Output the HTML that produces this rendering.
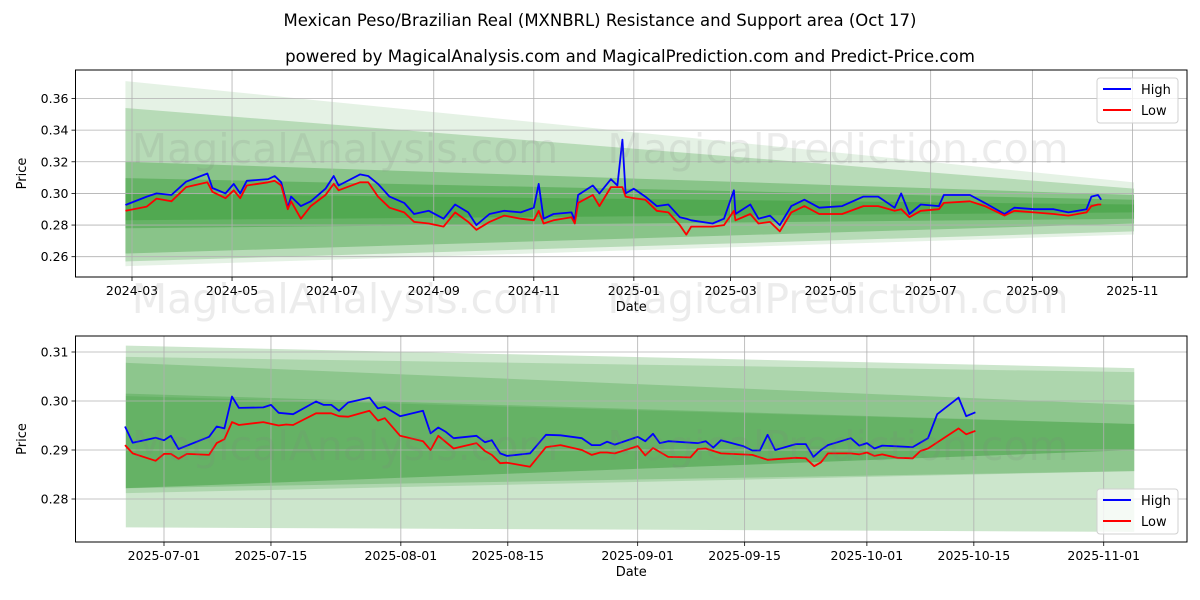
<!DOCTYPE html>
<html><head><meta charset="utf-8"><style>
body{margin:0;background:#fff;}
svg{display:block;font-family:"DejaVu Sans","Liberation Sans",sans-serif;}
</style></head><body>
<svg id="chart" width="1200" height="600" viewBox="0 0 1200 600" xmlns="http://www.w3.org/2000/svg">
<rect width="1200" height="600" fill="#fff"/>
<text x="600" y="26" text-anchor="middle" font-size="16.5">Mexican Peso/Brazilian Real (MXNBRL) Resistance and Support area (Oct 17)</text>
<text x="630" y="62" text-anchor="middle" font-size="16.6">powered by MagicalAnalysis.com and MagicalPrediction.com and Predict-Price.com</text>
<g id="top"></g>
<g id="bottom"></g>
</svg>
<script>
// ---------- TOP CHART DATA (days since 2024-03-01) ----------
const topDays = [-4,9,15,24,33,46,49,57,62,66,70,83,87,91,95,97,103,109,118,123,126,139,144,150,157,166,172,181,190,197,205,210,218,227,237,245,248,251,257,268,270,272,281,285,292,296,299,301,306,313,320,327,334,338,341,354,361,367,368,377,382,389,395,402,410,419,433,446,455,465,469,474,481,492,495,511,520,532,538,550,562,571,582,585,589,591];
const topHigh = [0.2927,0.298,0.300,0.299,0.3074,0.3126,0.3034,0.300,0.306,0.300,0.308,0.309,0.311,0.307,0.291,0.298,0.292,0.295,0.303,0.311,0.305,0.312,0.311,0.306,0.298,0.294,0.287,0.289,0.284,0.293,0.288,0.280,0.287,0.289,0.288,0.291,0.306,0.284,0.287,0.288,0.283,0.299,0.305,0.300,0.309,0.305,0.334,0.300,0.303,0.298,0.292,0.293,0.285,0.284,0.283,0.281,0.284,0.302,0.287,0.293,0.284,0.286,0.280,0.292,0.296,0.291,0.292,0.298,0.298,0.291,0.300,0.287,0.293,0.292,0.299,0.299,0.294,0.287,0.291,0.290,0.290,0.288,0.290,0.298,0.299,0.296];
const topLow = [0.289,0.2917,0.2967,0.295,0.304,0.307,0.301,0.297,0.302,0.297,0.305,0.307,0.308,0.305,0.290,0.295,0.284,0.292,0.299,0.306,0.302,0.307,0.307,0.298,0.291,0.288,0.282,0.281,0.279,0.288,0.282,0.277,0.282,0.286,0.284,0.283,0.289,0.281,0.283,0.285,0.281,0.294,0.299,0.292,0.304,0.304,0.304,0.298,0.297,0.296,0.289,0.288,0.280,0.274,0.279,0.279,0.280,0.289,0.283,0.287,0.281,0.282,0.276,0.288,0.292,0.287,0.287,0.292,0.292,0.289,0.290,0.285,0.289,0.290,0.294,0.295,0.292,0.286,0.289,0.288,0.287,0.286,0.288,0.292,0.293,0.293];
const topTicks = ["2024-03","2024-05","2024-07","2024-09","2024-11","2025-01","2025-03","2025-05","2025-07","2025-09","2025-11"];
const topTickDays = [0,61,122,184,245,306,365,426,487,549,610];
const topYTicks = [0.26,0.28,0.30,0.32,0.34,0.36];
const topBandDays = [-4,611];
const topBandTopL = [0.371,0.354,0.320,0.3097,0.300];
const topBandBotL = [0.254,0.257,0.262,0.278,0.283];
const topBandTopR = [0.307,0.303,0.299,0.296,0.293];
const topBandBotR = [0.274,0.276,0.281,0.284,0.288];
const topBandAlpha = [0.1,0.2,0.25,0.25,0.2];

// ---------- BOTTOM CHART DATA (days since 2025-07-01) ----------
const botDaysH = [-5.1,-4.1,-1.1,0,0.9,1.9,5.9,6.9,7.9,8.9,9.8,13,14,15,16.9,19.9,20.9,21.9,22.9,24.1,26.9,28,28.9,30.9,33.9,34.9,35.9,36.9,37.9,40.9,42,42.9,44,44.9,47.9,50,51.9,54.7,56,57.1,58,59,62,63,64,64.9,66,69.9,70.9,71.9,72.9,75.8,77,78,79,80,82.7,84,85,86,86.9,89.9,91,92,93,94,98,100,101.2,104,105,106.2];
const botHigh = [0.2948,0.2915,0.2925,0.2920,0.2929,0.2902,0.2927,0.2948,0.2944,0.3009,0.2986,0.2987,0.2992,0.2976,0.2973,0.2999,0.2992,0.2992,0.2980,0.2997,0.3007,0.2985,0.2988,0.2969,0.2980,0.2934,0.2946,0.2937,0.2924,0.2929,0.2916,0.2920,0.2893,0.2888,0.2893,0.2931,0.2930,0.2924,0.2910,0.2910,0.2917,0.2911,0.2927,0.2918,0.2933,0.2914,0.2918,0.2914,0.2918,0.2905,0.2920,0.2908,0.2899,0.2899,0.2931,0.2900,0.2912,0.2912,0.2886,0.2900,0.2910,0.2924,0.2909,0.2914,0.2903,0.2909,0.2906,0.2924,0.2973,0.3007,0.2969,0.2977];
const botDaysL = [-5.1,-4.1,-1.1,0,0.9,1.9,3,5.9,6.9,7.9,8.9,9.8,13,15,16,16.9,19.9,21.9,22.9,24.1,26.9,28,28.9,30.9,33.9,34.9,35.9,37.9,40.9,42,42.9,44,44.9,47.9,50,51.9,54.7,56,57.1,58,59,62,63,64,66,68.9,69.9,70.9,72.9,77,79,82.7,84,85.1,86,86.9,89.9,91,92,93,94,96,98,99,100,104,105,106.2];
const botLow = [0.2910,0.2893,0.2878,0.2892,0.2892,0.2882,0.2892,0.2890,0.2914,0.2922,0.2957,0.2951,0.2957,0.2950,0.2952,0.2951,0.2975,0.2975,0.2969,0.2968,0.2980,0.2960,0.2965,0.2929,0.2918,0.2900,0.2929,0.2903,0.2914,0.2898,0.2890,0.2873,0.2874,0.2866,0.2906,0.2910,0.2900,0.2890,0.2895,0.2895,0.2893,0.2908,0.2889,0.2904,0.2886,0.2885,0.2902,0.2903,0.2893,0.2890,0.2880,0.2884,0.2883,0.2867,0.2875,0.2893,0.2893,0.2891,0.2895,0.2888,0.2891,0.2884,0.2883,0.2898,0.2903,0.2944,0.2932,0.2939];
const botTicks = ["2025-07-01","2025-07-15","2025-08-01","2025-08-15","2025-09-01","2025-09-15","2025-10-01","2025-10-15","2025-11-01"];
const botTickDays = [0,14,31,45,62,76,92,106,123];
const botYTicks = [0.28,0.29,0.30,0.31];
const botBandDays = [-5,127];
const botBandTopL = [0.3113,0.3090,0.3078,0.3015,0.3010];
const botBandBotL = [0.2742,0.2812,0.2822,0.2822,0.2822];
const botBandTopR = [0.3067,0.3059,0.2992,0.2953,0.2953];
const botBandBotR = [0.2733,0.2857,0.2857,0.2900,0.2900];
const botBandAlpha = [0.2,0.15,0.18,0.18,0.12];

const NS="http://www.w3.org/2000/svg";
function mk(parent,tag,attrs,txt){const e=document.createElementNS(NS,tag);for(const k in attrs)e.setAttribute(k,attrs[k]);if(txt!==undefined)e.textContent=txt;parent.appendChild(e);return e;}

function drawPanel(g,cfg){
  const {x0,x1,y0,y1,xs,ys}=cfg;
  for(let i=0;i<cfg.bTopL.length;i++){
    const a=xs(cfg.bDays[0]),b=xs(cfg.bDays[1]);
    const p=mk(g,'polygon',{points:`${a},${ys(cfg.bTopL[i])} ${b},${ys(cfg.bTopR[i])} ${b},${ys(cfg.bBotR[i])} ${a},${ys(cfg.bBotL[i])}`,fill:'rgb(0,128,0)','fill-opacity':cfg.bAlpha[i]});
    
    
  }
  cfg.xTickDays.forEach((d,i)=>{const x=xs(d);
    const l=mk(g,'line',{x1:x,x2:x,y1:y0,y2:y1,stroke:'#b0b0b0','stroke-width':0.8});
    
    mk(g,'line',{x1:x,x2:x,y1:y1,y2:y1+4,stroke:'#000','stroke-width':0.8});
    const t=mk(g,'text',{x:x,y:y1+18,'text-anchor':'middle','font-size':12.5},cfg.xTicks[i]);
    
  });
  cfg.yTicks.forEach(v=>{const y=ys(v);
    const l=mk(g,'line',{x1:x0,x2:x1,y1:y,y2:y,stroke:'#b0b0b0','stroke-width':0.8});
    
    mk(g,'line',{x1:x0-4,x2:x0,y1:y,y2:y,stroke:'#000','stroke-width':0.8});
    const t=mk(g,'text',{x:x0-7,y:y+4.5,'text-anchor':'end','font-size':12.5},v.toFixed(2));
    
  });
  const hp=cfg.hDays.map((d,i)=>xs(d).toFixed(1)+','+ys(cfg.high[i]).toFixed(1)).join(' ');
  const lp=cfg.lDays.map((d,i)=>xs(d).toFixed(1)+','+ys(cfg.low[i]).toFixed(1)).join(' ');
  const hl=mk(g,'polyline',{points:hp,fill:'none',stroke:'#0000ff','stroke-width':1.8,'stroke-linejoin':'round'});
  
  const ll=mk(g,'polyline',{points:lp,fill:'none',stroke:'#ff0000','stroke-width':1.8,'stroke-linejoin':'round'});
  
  const f=mk(g,'rect',{x:x0,y:y0,width:x1-x0,height:y1-y0,fill:'none',stroke:'#000','stroke-width':1});
  
  const xl=mk(g,'text',{x:(x0+x1)/2,y:y1+34,'text-anchor':'middle','font-size':13},'Date');
  
  const yl=mk(g,'text',{x:0,y:0,'text-anchor':'middle','font-size':13,transform:`translate(26,${(y0+y1)/2}) rotate(-90)`},'Price');
  
  const lg=mk(g,'g',{});
  
  const ly=cfg.legY;
  mk(lg,'rect',{x:1097,y:ly,width:81,height:45,rx:3,fill:'#fff','fill-opacity':0.8,stroke:'#d0d0d0'});
  mk(lg,'line',{x1:1103,x2:1131,y1:ly+11,y2:ly+11,stroke:'#0000ff','stroke-width':2});
  const t1=mk(lg,'text',{x:1141,y:ly+16,'font-size':13},'High');
  
  mk(lg,'line',{x1:1103,x2:1131,y1:ly+32,y2:ly+32,stroke:'#ff0000','stroke-width':2});
  const t2=mk(lg,'text',{x:1141,y:ly+37,'font-size':13},'Low');
  
}

function wm(g,y){
  const a=mk(g,'text',{x:345,y:y,'text-anchor':'middle','font-size':41,fill:'#808080','fill-opacity':0.15},'MagicalAnalysis.com');
  
  const b=mk(g,'text',{x:838,y:y,'text-anchor':'middle','font-size':41,fill:'#808080','fill-opacity':0.15},'MagicalPrediction.com');
  
}

const topG=document.getElementById('top');
drawPanel(topG,{x0:75.5,x1:1187,y0:70,y1:277,
  xs:d=>132+d*1.64, ys:v=>256.7-(v-0.26)*1582,
  bDays:topBandDays,bTopL:topBandTopL,bBotL:topBandBotL,bTopR:topBandTopR,bBotR:topBandBotR,bAlpha:topBandAlpha,
  xTicks:topTicks,xTickDays:topTickDays,yTicks:topYTicks,hDays:topDays,high:topHigh,lDays:topDays,low:topLow,legY:78});
wm(topG,163);wm(topG,313);
const botG=document.getElementById('bottom');
drawPanel(botG,{x0:75.5,x1:1187,y0:336,y1:542,
  xs:d=>164+d*7.64, ys:v=>401-(v-0.30)*4900,
  bDays:botBandDays,bTopL:botBandTopL,bBotL:botBandBotL,bTopR:botBandTopR,bBotR:botBandBotR,bAlpha:botBandAlpha,
  xTicks:botTicks,xTickDays:botTickDays,yTicks:botYTicks,hDays:botDaysH,high:botHigh,lDays:botDaysL,low:botLow,legY:489});
wm(botG,460);
</script>
</body></html>
